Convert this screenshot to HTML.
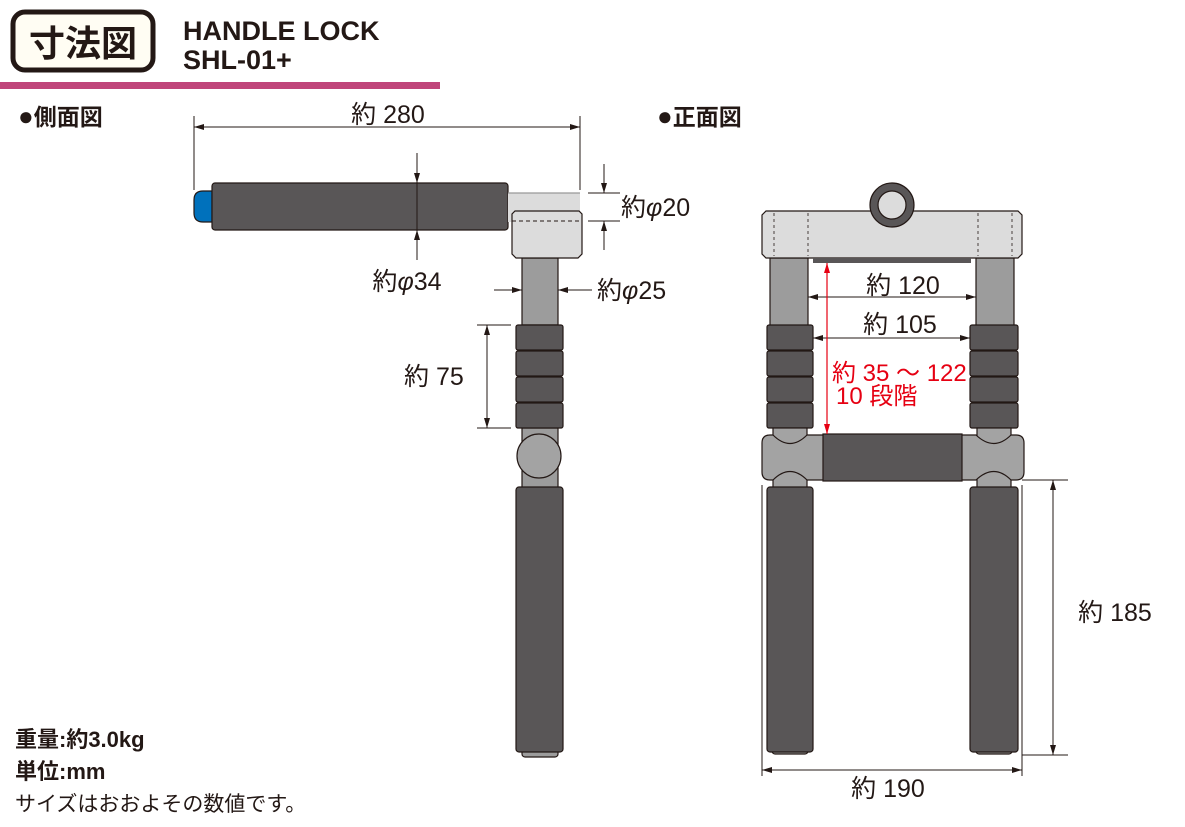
<!DOCTYPE html>
<html><head><meta charset="utf-8"><style>
html,body{margin:0;padding:0;background:#fff;width:1185px;height:827px;overflow:hidden}
svg{display:block}
text{font-family:"Liberation Sans","Noto Sans CJK JP",sans-serif;fill:#231815}
</style></head><body>
<svg width="1185" height="827" viewBox="0 0 1185 827" xmlns="http://www.w3.org/2000/svg">
<defs>
<marker id="a" viewBox="0 0 10 10" refX="10" refY="5" markerWidth="12" markerHeight="10" markerUnits="userSpaceOnUse" orient="auto-start-reverse"><path d="M0,2 L10,5 L0,8 Z" fill="#231815"/></marker>
<marker id="r" viewBox="0 0 10 10" refX="10" refY="5" markerWidth="12" markerHeight="10" markerUnits="userSpaceOnUse" orient="auto-start-reverse"><path d="M0,2 L10,5 L0,8 Z" fill="#e60012"/></marker>
</defs>
<!-- header -->
<rect x="13" y="12" width="140" height="58" rx="12" fill="#fffdf3" stroke="#231815" stroke-width="5"/>
<text x="83" y="56" font-size="36" font-weight="bold" text-anchor="middle">寸法図</text>
<text x="183" y="40" font-size="27" font-weight="bold">HANDLE LOCK</text>
<text x="183" y="69" font-size="27" font-weight="bold">SHL-01+</text>
<rect x="0" y="82" width="440" height="7" fill="#c0457a"/>
<text x="18" y="125" font-size="23" font-weight="bold"><tspan font-size="26">●</tspan>側面図</text>
<text x="657" y="125" font-size="23" font-weight="bold"><tspan font-size="26">●</tspan>正面図</text>

<!-- side view -->
<g stroke="#231815" stroke-width="1.2">
<path d="M212,191 L203,191 Q194,191 194,200 L194,213 Q194,222 203,222 L212,222 Z" fill="#0071bc"/>
<rect x="212" y="183" width="296" height="47" rx="3" fill="#595657"/>
<rect x="508" y="193" width="72" height="29" fill="#dcdcdc" stroke="none"/>
<line x1="508" y1="193" x2="580" y2="193" stroke="#999"/>
<path d="M522,258 L558,258 L558,325 L522,325 Z" fill="#9c9c9c"/>
<path d="M515,211 L579,211 L582,214 L582,254 L578,258 L516,258 L512,254 L512,214 Z" fill="#dcdcdc"/>
<line x1="512" y1="221" x2="582" y2="221" stroke-dasharray="4,3" stroke-width="1"/>
<rect x="522" y="428" width="36" height="60" fill="#9c9c9c"/>
<rect x="516" y="325" width="47" height="25" rx="2" fill="#595657"/>
<rect x="516" y="351" width="47" height="25" rx="2" fill="#595657"/>
<rect x="516" y="377" width="47" height="25" rx="2" fill="#595657"/>
<rect x="516" y="403" width="47" height="25" rx="2" fill="#595657"/>
<circle cx="539" cy="456" r="22" fill="#a3a3a3"/>
<rect x="522" y="740" width="36" height="17" rx="3" fill="#9c9c9c"/>
<rect x="516" y="487" width="47" height="265" rx="3" fill="#595657"/>
</g>
<!-- side dims -->
<g stroke="#231815" stroke-width="1" fill="none">
<line x1="194" y1="116" x2="194" y2="190"/><line x1="580" y1="116" x2="580" y2="190"/>
<line x1="194" y1="127" x2="580" y2="127" marker-start="url(#a)" marker-end="url(#a)"/>
<line x1="417" y1="153" x2="417" y2="183" marker-end="url(#a)"/>
<line x1="417" y1="260" x2="417" y2="230" marker-end="url(#a)"/>
<line x1="417" y1="183" x2="417" y2="230"/>
<line x1="588" y1="193" x2="620" y2="193"/><line x1="588" y1="221" x2="620" y2="221"/>
<line x1="604" y1="164" x2="604" y2="193" marker-end="url(#a)"/>
<line x1="604" y1="250" x2="604" y2="221" marker-end="url(#a)"/>
<line x1="494" y1="290" x2="522" y2="290" marker-end="url(#a)"/>
<line x1="592" y1="290" x2="558" y2="290" marker-end="url(#a)"/>
<line x1="477" y1="325" x2="511" y2="325"/><line x1="477" y1="428" x2="511" y2="428"/>
<line x1="487" y1="325" x2="487" y2="428" marker-start="url(#a)" marker-end="url(#a)"/>
</g>
<text x="388" y="123" font-size="25" text-anchor="middle">約 280</text>
<text x="407" y="290" font-size="25" text-anchor="middle">約<tspan font-style="italic">φ</tspan>34</text>
<text x="621" y="216" font-size="25">約<tspan font-style="italic">φ</tspan>20</text>
<text x="597" y="299" font-size="25">約<tspan font-style="italic">φ</tspan>25</text>
<text x="404" y="385" font-size="25">約 75</text>

<!-- front view -->
<g stroke="#231815" stroke-width="1.2">
<rect x="770" y="258" width="38" height="70" fill="#9c9c9c"/>
<rect x="976" y="258" width="38" height="70" fill="#9c9c9c"/>
<path d="M766,211 L1018,211 L1022,215 L1022,254 L1018,258 L766,258 L762,254 L762,215 Z" fill="#dcdcdc"/>
<circle cx="892" cy="205" r="22" fill="#595657"/>
<circle cx="892" cy="205" r="14" fill="#dcdcdc"/>
<rect x="813" y="258" width="158" height="5" fill="#595657" stroke="none"/>
<rect x="767" y="325" width="46" height="25" rx="2" fill="#595657"/>
<rect x="767" y="351" width="46" height="25" rx="2" fill="#595657"/>
<rect x="767" y="377" width="46" height="25" rx="2" fill="#595657"/>
<rect x="767" y="403" width="46" height="25" rx="2" fill="#595657"/>
<rect x="970" y="325" width="48" height="25" rx="2" fill="#595657"/>
<rect x="970" y="351" width="48" height="25" rx="2" fill="#595657"/>
<rect x="970" y="377" width="48" height="25" rx="2" fill="#595657"/>
<rect x="970" y="403" width="48" height="25" rx="2" fill="#595657"/>
<rect x="773" y="428" width="34" height="60" fill="#a3a3a3"/>
<rect x="977" y="428" width="34" height="60" fill="#a3a3a3"/>
<path d="M770,435 L773,435 Q790,452 807,435 L976,435 Q994,452 1011,435 L1016,435 Q1024,435 1024,443 L1024,472 Q1024,480 1016,480 L1011,480 Q994,463 976,480 L807,480 Q790,463 773,480 L770,480 Q762,480 762,472 L762,443 Q762,435 770,435 Z" fill="#a3a3a3"/>
<rect x="823" y="434" width="139" height="47" fill="#595657"/>
<rect x="772" y="740" width="36" height="14" rx="3" fill="#9c9c9c"/>
<rect x="976" y="740" width="36" height="14" rx="3" fill="#9c9c9c"/>
<rect x="767" y="487" width="46" height="265" rx="3" fill="#595657"/>
<rect x="970" y="487" width="48" height="265" rx="3" fill="#595657"/>
</g>
<g stroke="#231815" stroke-width="0.8" stroke-dasharray="3,3" fill="none">
<line x1="774" y1="213" x2="774" y2="256"/><line x1="808" y1="213" x2="808" y2="256"/>
<line x1="978" y1="213" x2="978" y2="256"/><line x1="1012" y1="213" x2="1012" y2="256"/>
</g>
<g stroke="#231815" stroke-width="1" fill="none">
<line x1="808" y1="297" x2="976" y2="297" marker-start="url(#a)" marker-end="url(#a)"/>
<line x1="813" y1="338" x2="970" y2="338" marker-start="url(#a)" marker-end="url(#a)"/>
<line x1="1022" y1="480" x2="1068" y2="480"/><line x1="1022" y1="755" x2="1068" y2="755"/>
<line x1="1053" y1="480" x2="1053" y2="755" marker-start="url(#a)" marker-end="url(#a)"/>
<line x1="762" y1="485" x2="762" y2="776"/><line x1="1022" y1="485" x2="1022" y2="776"/>
<line x1="762" y1="770" x2="1022" y2="770" marker-start="url(#a)" marker-end="url(#a)"/>
</g>
<line x1="827" y1="263" x2="827" y2="434" stroke="#e60012" stroke-width="1.2" marker-start="url(#r)" marker-end="url(#r)"/>
<text x="903" y="294" font-size="25" text-anchor="middle">約 120</text>
<text x="900" y="333" font-size="25" text-anchor="middle">約 105</text>
<text x="832" y="381" font-size="24" style="fill:#e60012">約 35 ～ 122</text>
<text x="836" y="404" font-size="24" style="fill:#e60012">10 段階</text>
<text x="1115" y="621" font-size="25" text-anchor="middle">約 185</text>
<text x="888" y="797" font-size="25" text-anchor="middle">約 190</text>

<text x="15" y="747" font-size="22" font-weight="bold">重量:約3.0kg</text>
<text x="15" y="779" font-size="22" font-weight="bold">単位:mm</text>
<text x="15" y="811" font-size="21">サイズはおおよその数値です。</text>
</svg>
</body></html>
